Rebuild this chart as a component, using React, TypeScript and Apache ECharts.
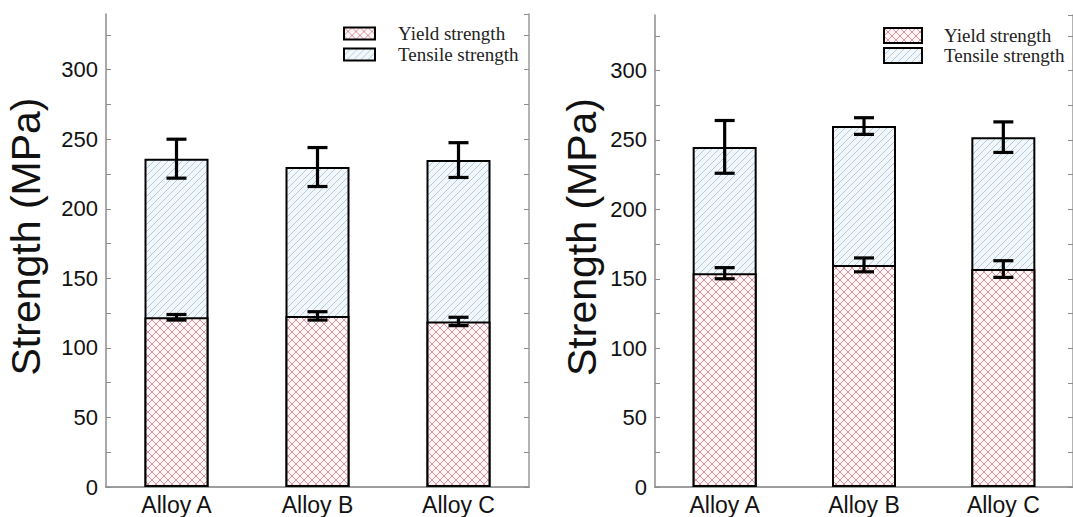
import React, { useEffect, useRef } from "react";
import * as echarts from "echarts";

// Alloy categories and measured strengths (MPa)
const categories = ["Alloy A", "Alloy B", "Alloy C"];

// Left panel
const yieldLeft = [122, 123, 119];
const yieldLeftErr = [2, 3, 3];
const tensileLeft = [236, 230, 235];
const tensileLeftErr = [14, 14, 12.5];

// Right panel
const yieldRight = [154, 160, 157];
const yieldRightErr = [4, 5, 6];
const tensileRight = [245, 260, 252];
const tensileRightErr = [19, 6, 11];

const yTickLabels = [0, 50, 100, 150, 200, 250, 300];

const svgUrl = (svg: string) =>
  "data:image/svg+xml;charset=utf-8," + encodeURIComponent(svg);

// Cross-hatch tile for yield strength
const yieldTile = svgUrl(
  '<svg xmlns="http://www.w3.org/2000/svg" width="8" height="8">' +
    '<rect width="8" height="8" fill="#fff7f8"/>' +
    '<path d="M0 0L8 8M0 8L8 0" stroke="#dc8593" stroke-width="0.9" fill="none"/>' +
    "</svg>"
);
// Diagonal hatch tile for tensile strength
const tensileTile = svgUrl(
  '<svg xmlns="http://www.w3.org/2000/svg" width="7" height="7">' +
    '<rect width="7" height="7" fill="#f1f7fb"/>' +
    '<path d="M0 7L7 0M-1 1L1 -1M6 8L8 6" stroke="#a9c2d5" stroke-width="0.85" fill="none"/>' +
    "</svg>"
);

const yieldFill: any = { image: yieldTile, repeat: "repeat", imageWidth: 8, imageHeight: 8 };
const tensileFill: any = { image: tensileTile, repeat: "repeat", imageWidth: 7, imageHeight: 7 };

const errorBarRender = (params: any, api: any) => {
  const x = api.value(0);
  const v = api.value(1);
  const e = api.value(2);
  const hi = api.coord([x, v + e]);
  const lo = api.coord([x, v - e]);
  const half = 10;
  const style = { stroke: "#000", lineWidth: 3.2 };
  return {
    type: "group",
    children: [
      { type: "line", shape: { x1: hi[0], y1: hi[1], x2: lo[0], y2: lo[1] }, style },
      { type: "line", shape: { x1: hi[0] - half, y1: hi[1], x2: hi[0] + half, y2: hi[1] }, style },
      { type: "line", shape: { x1: lo[0] - half, y1: lo[1], x2: lo[0] + half, y2: lo[1] }, style },
    ],
  };
};

const axisGray = "#8c8c8c";

function panelAxes(gridIndex: number, nameGap: number) {
  const xAxes = [
    {
      type: "category",
      gridIndex,
      data: categories,
      axisLine: { lineStyle: { color: axisGray, width: 1.5 } },
      axisTick: { show: false },
      axisLabel: {
        fontFamily: "Liberation Sans",
        fontSize: 23,
        color: "#111",
        margin: 6,
      },
    },
    {
      type: "category",
      gridIndex,
      position: "top",
      data: categories,
      axisLine: { show: true, lineStyle: { color: "#9a9a9a", width: 1.5 } },
      axisTick: { show: false },
      axisLabel: { show: false },
    },
  ];
  const yAxes = [
    {
      type: "value",
      gridIndex,
      min: 0,
      max: 340,
      interval: 25,
      name: "Strength (MPa)",
      nameLocation: "middle",
      nameGap,
      nameTextStyle: {
        fontFamily: "Liberation Sans",
        fontSize: 41,
        color: "#111",
        padding: [0, 0, 0, 28],
      },
      axisLine: { show: true, lineStyle: { color: axisGray, width: 1.5 } },
      axisTick: { show: true, inside: true, length: 5, lineStyle: { color: axisGray } },
      splitLine: { show: false },
      axisLabel: {
        fontFamily: "Liberation Sans",
        fontSize: 22,
        color: "#111",
        margin: 8,
        showMaxLabel: false,
        formatter: (v: number) => (yTickLabels.includes(v) ? String(v) : ""),
      },
    },
    {
      type: "value",
      gridIndex,
      position: "right",
      min: 0,
      max: 340,
      interval: 25,
      axisLine: { show: true, lineStyle: { color: "#9a9a9a", width: 1.5 } },
      axisTick: { show: true, inside: true, length: 5, lineStyle: { color: axisGray } },
      splitLine: { show: false },
      axisLabel: { show: false },
    },
  ];
  return { xAxes, yAxes };
}

function panelSeries(
  xIdx: number,
  yIdx: number,
  yieldVals: number[],
  yieldErr: number[],
  tensileVals: number[],
  tensileErr: number[]
) {
  const barStyle = { borderColor: "#000", borderWidth: 2 };
  return [
    {
      name: "Tensile strength",
      type: "bar",
      xAxisIndex: xIdx,
      yAxisIndex: yIdx,
      barWidth: 64,
      barGap: "-100%",
      data: tensileVals,
      itemStyle: { ...barStyle, color: tensileFill },
    },
    {
      name: "Yield strength",
      type: "bar",
      xAxisIndex: xIdx,
      yAxisIndex: yIdx,
      barWidth: 64,
      barGap: "-100%",
      data: yieldVals,
      itemStyle: { ...barStyle, color: yieldFill },
    },
    {
      type: "custom",
      xAxisIndex: xIdx,
      yAxisIndex: yIdx,
      renderItem: errorBarRender,
      data: tensileVals.map((v, i) => [i, v, tensileErr[i]]),
      z: 5,
    },
    {
      type: "custom",
      xAxisIndex: xIdx,
      yAxisIndex: yIdx,
      renderItem: errorBarRender,
      data: yieldVals.map((v, i) => [i, v, yieldErr[i]]),
      z: 5,
    },
  ];
}

function legendAt(left: number, top: number, w: number, h: number, gap: number, textPad: number) {
  return {
    orient: "vertical",
    left,
    top,
    itemWidth: w,
    itemHeight: h,
    itemGap: gap,
    icon: "rect",
    data: ["Yield strength", "Tensile strength"],
    selectedMode: false,
    padding: 0,
    itemStyle: { borderColor: "#000", borderWidth: 2 },
    textStyle: {
      fontFamily: "Liberation Serif",
      fontSize: 19,
      color: "#222",
      padding: [0, 0, 0, textPad],
    },
  };
}

export default function App() {
  const ref = useRef<HTMLDivElement>(null);

  useEffect(() => {
    if (!ref.current) return;
    const chart = echarts.init(ref.current, undefined, { renderer: "svg" });
    const a = panelAxes(0, 60);
    const b = panelAxes(1, 53);
    chart.setOption({
      animation: false,
      backgroundColor: "#fff",
      grid: [
        { left: 106, top: 14, width: 423, height: 473 },
        { left: 655, top: 15, width: 420, height: 472 },
      ],
      legend: [legendAt(343, 24, 31, 12, 2, 18), legendAt(883, 26, 38, 15, 1, 17)],
      xAxis: [...a.xAxes, ...b.xAxes],
      yAxis: [...a.yAxes, ...b.yAxes],
      series: [
        ...panelSeries(0, 0, yieldLeft, yieldLeftErr, tensileLeft, tensileLeftErr),
        ...panelSeries(2, 2, yieldRight, yieldRightErr, tensileRight, tensileRightErr),
      ],
    });
    return () => chart.dispose();
  }, []);

  return (
    <div
      ref={ref}
      style={{ position: "fixed", left: 0, top: 0, width: 1073, height: 517, background: "#fff" }}
    />
  );
}
